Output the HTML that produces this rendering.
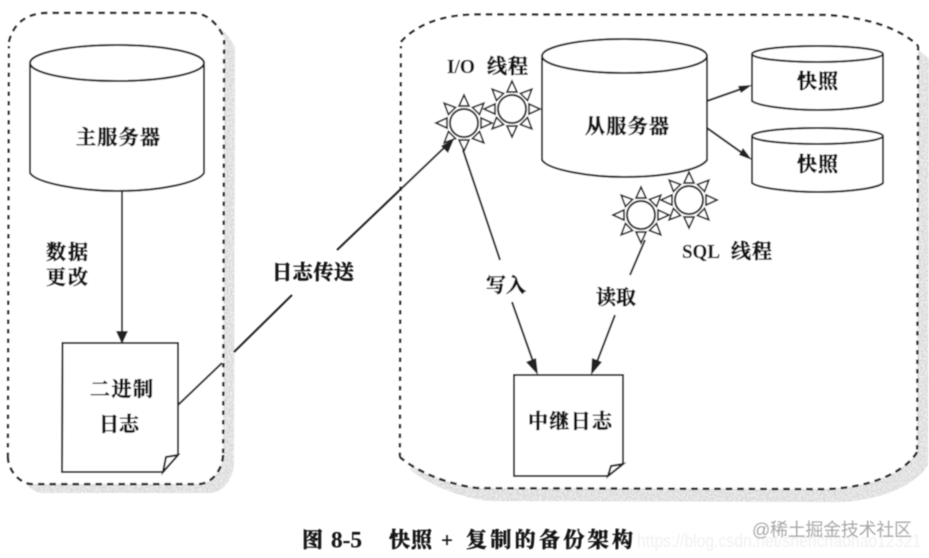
<!DOCTYPE html>
<html><head><meta charset="utf-8"><style>
html,body{margin:0;padding:0;background:#fff;width:929px;height:558px;overflow:hidden}
svg{display:block}
text{font-family:"Liberation Serif","Noto Serif CJK SC",serif;font-weight:700;fill:#161616;dominant-baseline:central}
.k text{stroke:#161616;stroke-width:.6px}
.l{stroke-width:.15px !important}
</style></head><body>
<svg width="929" height="558" viewBox="0 0 929 558" xmlns="http://www.w3.org/2000/svg">
<defs>
<filter id="b" x="-5%" y="-5%" width="110%" height="110%"><feGaussianBlur stdDeviation="0.5"/></filter>
<filter id="n" x="-5%" y="-5%" width="110%" height="110%">
<feTurbulence type="fractalNoise" baseFrequency="0.55" numOctaves="2" seed="4" result="t"/>
<feColorMatrix in="t" type="matrix" values="0 0 0 0 1 0 0 0 0 1 0 0 0 0 1 1.6 0 0 0 -0.5" result="w"/>
<feComposite in="w" in2="SourceAlpha" operator="in" result="w2"/>
<feMerge><feMergeNode in="SourceGraphic"/><feMergeNode in="w2"/></feMerge>
<feGaussianBlur stdDeviation="0.6"/>
</filter>
<g id="sun">
<g id="ray4">
<polygon points="-5,-17 5,-17 0,-28"/>
<polygon points="-5,17 5,17 0,28"/>
<polygon points="17,-5 17,5 28,0"/>
<polygon points="-17,-5 -17,5 -28,0"/>
</g>
<use href="#ray4" transform="rotate(45)"/>
<circle r="14" fill="#fff" stroke="#222" stroke-width="2"/>
</g>
</defs>
<rect width="929" height="558" fill="#fff"/>
<g filter="url(#n)" fill="#d6d6d6">
<path d="M20 58 C20 34 35 22 58 22 L202 22 C218 22 228 34 235 47 L234 464 C233 479 223 493 209 493 L43 493 C31 493 19 479 19 466 Z"/>
<path d="M412 55 C426 39 451 28 486 27.5 L836 28 C876 30 911 41 929 59 L928 465 C916 485 881 501 836 502 L489 501 C456 497 426 483 411 470 Z"/>
</g>
<g filter="url(#b)">
<path d="M9 48 C9 25 25 13 48 13 L192 13 C208 13 218 25 224 38 L223 455 C222 470 212 484 198 484 L32 484 C20 484 8 470 8 457 Z" fill="#fff"/>
<path d="M401 42 C415 26 440 15 475 14.5 L825 15 C865 17 900 28 918 46 L917 452 C905 472 870 488 825 489 L478 488 C445 484 415 470 400 457 Z" fill="#fff"/>
<g fill="none" stroke="#222" stroke-width="2.2">
<path stroke-dasharray="6.5 5" d="M9 42 C13 25 25 13 48 13 L192 13 C208 13 218 25 224 38"/>
<path stroke-dasharray="4.5 5" d="M224 40 L223 455"/>
<path stroke-dasharray="6.5 5" d="M223 455 C222 470 212 484 198 484 L32 484 C20 484 8 470 8 457"/>
<path stroke-dasharray="4.5 5" d="M8 457 L9 46"/>
<path stroke-dasharray="6.5 5" d="M401 42 C415 26 440 15 475 14.5 L825 15 C865 17 900 28 918 46"/>
<path stroke-dasharray="4.5 5" d="M918 46 L917 452"/>
<path stroke-dasharray="6.5 5" d="M917 452 C905 472 870 488 825 489 L478 488 C445 484 415 470 400 457"/>
<path stroke-dasharray="4.5 5" d="M400 457 L401 46"/>
</g>
<g fill="#fff" stroke="#222" stroke-width="2">
<path d="M30 63 L30 173 C36 183 80 191 117 191 C160 191 198 183 204 173 L204 63"/>
<ellipse cx="117" cy="63" rx="87" ry="18"/>
<path d="M542 56 L542 160 C548 170 590 177 624 177 C665 177 700 170 707 160 L707 56"/>
<ellipse cx="624.500" cy="56" rx="82.500" ry="17"/>
<path d="M752 54 L752 101 C758 106 790 110 818 110 C850 110 878 106 883 101 L883 54"/>
<ellipse cx="817.500" cy="54" rx="65.500" ry="8"/>
<path d="M752 136 L752 183 C758 188 790 192 818 192 C850 192 878 188 883 183 L883 136"/>
<ellipse cx="817.500" cy="136" rx="65.500" ry="8"/>
<path d="M62.500 343 L178 343 L178 455 L163 472 L62 472 Z"/>
<path d="M178 455 L166 457 L163 472 Z"/>
<path d="M514 375 L623 375 L623 464 L608 476 L514 476 Z"/>
<path d="M623 464 L611 466 L608 476 Z"/>
</g>
<g fill="none" stroke="#222" stroke-width="2">
<path d="M122 191 L122 335"/>
<path d="M707 101 L744 88"/>
<path d="M707 128 L745 155"/>
<path d="M178 405 L222 363"/>
<path d="M234 352 L292 295"/>
<path d="M337 250 L447 145"/>
<path d="M463 150 L500 260"/>
<path d="M512 302 L535 367"/>
<path d="M645 240 L630 275"/>
<path d="M615 315 L595 367"/>
</g>
<g fill="#222" stroke="none">
<polygon points="122,344 116,331 128,331"/>
<polygon points="752,85 738,86 741,93"/>
<polygon points="752,160 739,155 743,148"/>
<polygon points="454,139 448,153 441,146"/>
<polygon points="538,375 526,362 536,358"/>
<polygon points="591,375 592,358 602,362"/>
</g>
<g fill="#fff" stroke="#222" stroke-width="1.7">
<use href="#sun" x="512" y="109"/>
<use href="#sun" x="464" y="123"/>
<use href="#sun" x="689" y="200"/>
<use href="#sun" x="641" y="215"/>
</g>
<g class="k" font-size="20">
<text x="76" y="138" textLength="84" lengthAdjust="spacing">主服务器</text>
<text x="46" y="253" textLength="42" lengthAdjust="spacing">数据</text>
<text x="46" y="278" textLength="42" lengthAdjust="spacing">更改</text>
<text x="90" y="390" textLength="63" lengthAdjust="spacing">二进制</text>
<text x="99" y="425" textLength="40" lengthAdjust="spacing">日志</text>
<text x="272" y="273" textLength="82" lengthAdjust="spacing">日志传送</text>
<text x="585" y="127" textLength="84" lengthAdjust="spacing">从服务器</text>
<text x="486" y="286" textLength="40" lengthAdjust="spacing">写入</text>
<text x="596" y="298" textLength="40" lengthAdjust="spacing">读取</text>
<text x="528" y="422" textLength="84" lengthAdjust="spacing">中继日志</text>
<text x="797" y="82" textLength="41" lengthAdjust="spacing">快照</text>
<text x="797" y="165" textLength="41" lengthAdjust="spacing">快照</text>
<text class="l" x="447" y="67" textLength="28" font-size="20" lengthAdjust="spacingAndGlyphs">I/O</text>
<text x="487" y="67" textLength="41" lengthAdjust="spacing">线程</text>
<text class="l" x="682" y="252" textLength="38" font-size="20" lengthAdjust="spacingAndGlyphs">SQL</text>
<text x="731" y="252" textLength="41" lengthAdjust="spacing">线程</text>
</g>
<g class="k" font-size="21">
<text x="302" y="540">图</text>
<text class="l" x="331" y="540" textLength="31" font-size="23" lengthAdjust="spacingAndGlyphs">8-5</text>
<text x="389" y="540" textLength="43" lengthAdjust="spacing">快照</text>
<text class="l" x="441" y="540">+</text>
<text x="466" y="540" textLength="167" lengthAdjust="spacing">复制的备份架构</text>
</g>
<text x="637" y="541" font-size="18" textLength="284" lengthAdjust="spacingAndGlyphs" style="font-family:'Liberation Sans',sans-serif;font-weight:400;fill:#f1f1f1">https://blog.csdn.net/shenchaohao12321</text>
<text x="752" y="530" font-size="18" textLength="160" lengthAdjust="spacing" style="font-family:'Liberation Sans','Noto Sans CJK SC',sans-serif;font-weight:400;fill:#a8a8a8">@稀土掘金技术社区</text>
</g>
</svg>
</body></html>
